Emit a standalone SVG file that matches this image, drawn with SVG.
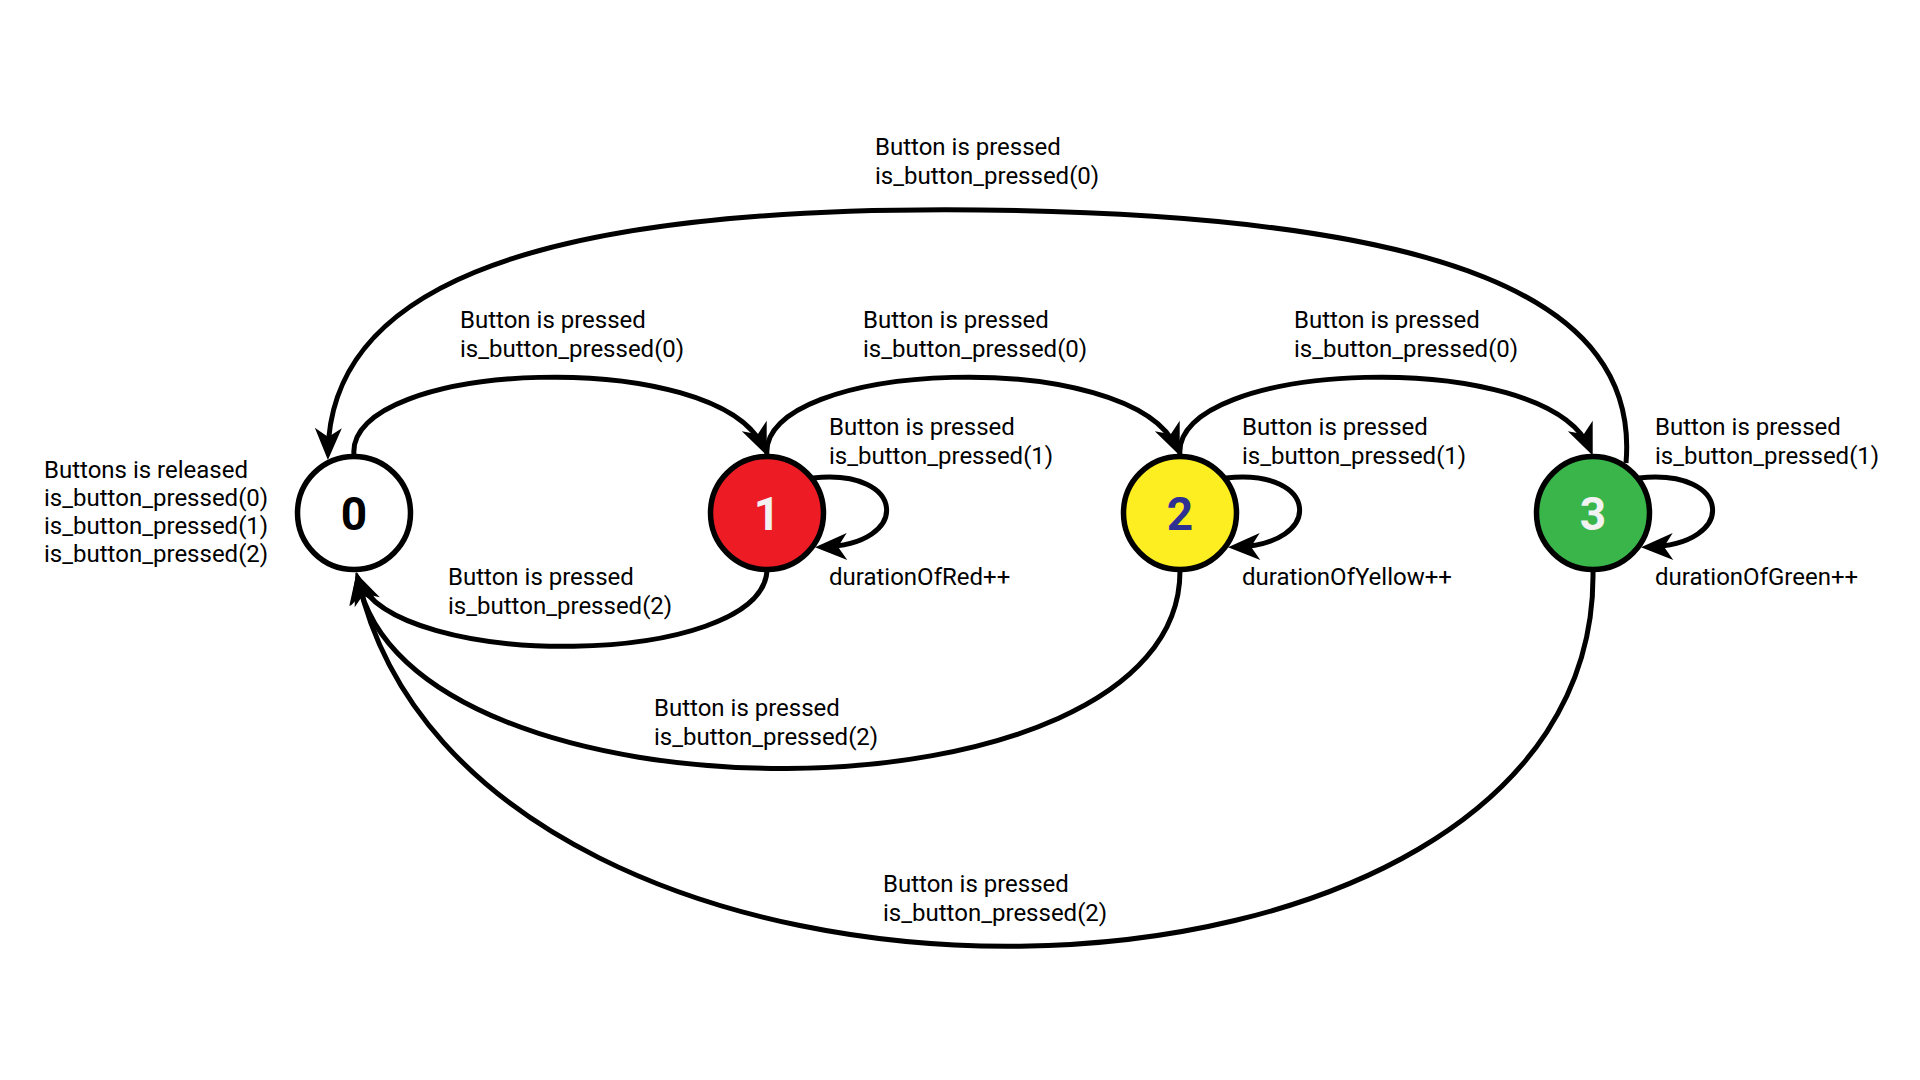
<svg xmlns="http://www.w3.org/2000/svg" width="1920" height="1080" viewBox="0 0 1920 1080">
<style>
.lbl{font-family:Roboto,"Liberation Sans",sans-serif;font-size:24px;fill:#000}
.st{stroke:#000;stroke-width:5.5}
.num{font-family:Roboto,"Liberation Sans",sans-serif;font-size:46px;font-weight:700;text-anchor:middle}
.edge{fill:none;stroke:#000;stroke-width:5;marker-end:url(#ah)}
</style>
<defs>
<marker id="ah" markerUnits="userSpaceOnUse" viewBox="-34 -15 36 30" refX="-7" refY="0" markerWidth="36" markerHeight="30" orient="auto">
<path d="M0,0 L-32,-13.5 L-23,0 L-32,13.5 Z" fill="#000"/>
</marker>
</defs>
<rect width="1920" height="1080" fill="#fff"/>
<g id="connectors">
<path class="edge" d="M354,455 C345,360 720,345 764,449"/>
<path class="edge" d="M767,455 C758,360 1133,345 1177,449"/>
<path class="edge" d="M1180,455 C1171,360 1546,345 1590,449"/>
<path class="edge" d="M1626,463 C1640,300 1450,215 980,210 C500,205 330,300 328,453"/>
<path class="edge" d="M813,478 C907,468 912,545 822,547"/>
<path class="edge" d="M1226,478 C1320,468 1325,545 1235,547"/>
<path class="edge" d="M1639,478 C1733,468 1738,545 1648,547"/>
<path class="edge" d="M767,571 C760,668 395,672 358,579"/>
<path class="edge" d="M1180,571 C1180,833 405,833 358,579"/>
<path class="edge" d="M1593,571 C1600,1060 470,1080 358,579"/>
</g>
<g id="node0">
<circle class="st" cx="354" cy="513" r="56.5" fill="#fff"/>
<text class="num" x="354" y="530" fill="#000">0</text>
</g>
<g id="node1">
<circle class="st" cx="767" cy="513" r="56.5" fill="#ed1c24"/>
<text class="num" x="767" y="530" fill="#f2f2f2">1</text>
</g>
<g id="node2">
<circle class="st" cx="1180" cy="513" r="56.5" fill="#fcee21"/>
<text class="num" x="1180" y="530" fill="#2e3192">2</text>
</g>
<g id="node3">
<circle class="st" cx="1593" cy="513" r="56.5" fill="#39b54a"/>
<text class="num" x="1593" y="530" fill="#f2f2f2">3</text>
</g>
<g id="labels">
<text class="lbl" x="875" y="155">Button is pressed</text>
<text class="lbl" x="875" y="184">is_button_pressed(0)</text>
<text class="lbl" x="460" y="328">Button is pressed</text>
<text class="lbl" x="460" y="357">is_button_pressed(0)</text>
<text class="lbl" x="863" y="328">Button is pressed</text>
<text class="lbl" x="863" y="357">is_button_pressed(0)</text>
<text class="lbl" x="1294" y="328">Button is pressed</text>
<text class="lbl" x="1294" y="357">is_button_pressed(0)</text>
<text class="lbl" x="829" y="435">Button is pressed</text>
<text class="lbl" x="829" y="464">is_button_pressed(1)</text>
<text class="lbl" x="829" y="585">durationOfRed++</text>
<text class="lbl" x="1242" y="435">Button is pressed</text>
<text class="lbl" x="1242" y="464">is_button_pressed(1)</text>
<text class="lbl" x="1242" y="585">durationOfYellow++</text>
<text class="lbl" x="1655" y="435">Button is pressed</text>
<text class="lbl" x="1655" y="464">is_button_pressed(1)</text>
<text class="lbl" x="1655" y="585">durationOfGreen++</text>
<text class="lbl" x="44" y="478">Buttons is released</text>
<text class="lbl" x="44" y="506">is_button_pressed(0)</text>
<text class="lbl" x="44" y="534">is_button_pressed(1)</text>
<text class="lbl" x="44" y="562">is_button_pressed(2)</text>
<text class="lbl" x="448" y="585">Button is pressed</text>
<text class="lbl" x="448" y="614">is_button_pressed(2)</text>
<text class="lbl" x="654" y="716">Button is pressed</text>
<text class="lbl" x="654" y="745">is_button_pressed(2)</text>
<text class="lbl" x="883" y="892">Button is pressed</text>
<text class="lbl" x="883" y="921">is_button_pressed(2)</text>
</g>
</svg>
